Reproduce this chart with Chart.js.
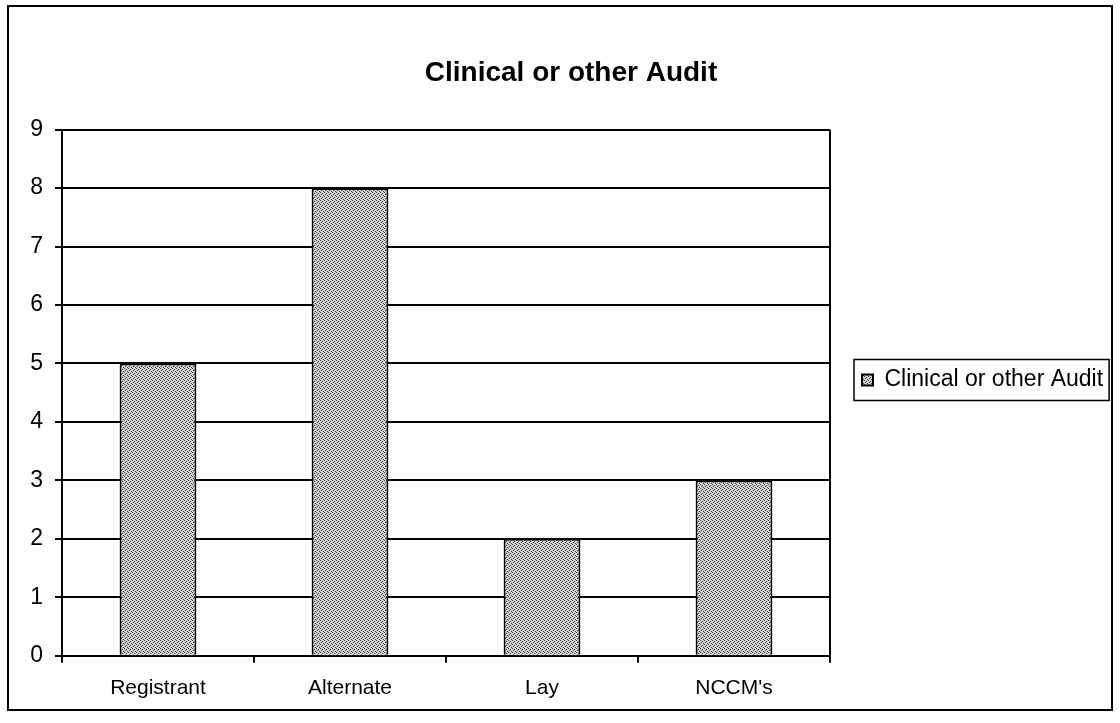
<!DOCTYPE html>
<html>
<head>
<meta charset="utf-8">
<script src="https://cdn.jsdelivr.net/npm/chart.js@4/dist/chart.umd.min.js"></script>
<style>
  html, body { margin: 0; padding: 0; background: #fff; }
  #wrap { width: 1120px; height: 723px; position: relative; }
</style>
</head>
<body>
<div id="wrap"><canvas id="myChart" width="1120" height="723"></canvas></div>
<script>
const categories = ['Registrant', 'Alternate', 'Lay', "NCCM's"];
const auditValues = [5, 8, 2, 3];
const yTicks = [0, 1, 2, 3, 4, 5, 6, 7, 8, 9];
const seriesLabel = 'Clinical or other Audit';

// stippled grey fill like the printed bars
function makePattern() {
  const c = document.createElement('canvas');
  c.width = 4; c.height = 4;
  const g = c.getContext('2d');
  g.fillStyle = '#cfcfcf';
  g.fillRect(0, 0, 4, 4);
  g.fillStyle = '#444';
  g.fillRect(0, 0, 1, 1);
  g.fillRect(2, 1, 1, 1);
  g.fillRect(1, 2, 1, 1);
  g.fillRect(3, 3, 1, 1);
  return g.createPattern(c, 'repeat');
}

// give the legend a fixed width so the plot ends where the original one does
const legendWidth = {
  id: 'legendWidth',
  beforeLayout(chart) {
    const lg = chart.legend;
    if (lg && !lg._patched) {
      const fit = lg.fit;
      lg.fit = function () { fit.call(this); this.width = 290; };
      lg._patched = true;
    }
  }
};

const frame = {
  id: 'frame',
  afterDraw(chart) {
    const ctx = chart.ctx;
    const a = chart.chartArea;
    ctx.save();
    ctx.strokeStyle = '#000';
    ctx.lineWidth = 2;
    // outer chart border
    ctx.strokeRect(8, 6, 1104, 704);
    // plot area right edge
    ctx.beginPath();
    ctx.moveTo(a.right, a.top);
    ctx.lineTo(a.right, a.bottom);
    ctx.stroke();
    // legend box
    const lg = chart.legend;
    if (lg && lg.legendHitBoxes.length) {
      const hb = lg.legendHitBoxes[0];
      ctx.lineWidth = 1.5;
      ctx.strokeRect(hb.left - 8, hb.top - 9, hb.width + 14, hb.height + 18);
    }
    ctx.restore();
  }
};

const config = {
  type: 'bar',
  data: {
    labels: categories,
    datasets: [{
      label: seriesLabel,
      data: auditValues,
      backgroundColor: makePattern(),
      borderColor: '#000',
      borderWidth: 2,
      categoryPercentage: 1,
      barPercentage: 0.4
    }]
  },
  options: {
    responsive: false,
    animation: false,
    layout: { padding: { left: 22, right: 0, top: 46, bottom: 9 } },
    plugins: {
      title: {
        display: true,
        text: seriesLabel,
        color: '#000',
        font: { family: 'Arial, Liberation Sans', size: 28, weight: 'bold' },
        padding: { top: 10, bottom: 40 }
      },
      legend: {
        position: 'right',
        labels: {
          color: '#000',
          boxWidth: 11,
          boxHeight: 11,
          padding: 32,
          font: { family: 'Arial, Liberation Sans', size: 23 }
        }
      },
      tooltip: { enabled: false }
    },
    scales: {
      x: {
        grid: { drawOnChartArea: false, drawTicks: true, tickLength: 7, color: '#000', lineWidth: 2, offset: true },
        border: { display: true, color: '#000', width: 2 },
        ticks: { color: '#000', padding: 13, font: { family: 'Arial, Liberation Sans', size: 21 } }
      },
      y: {
        min: 0,
        max: 9,
        afterBuildTicks: s => { s.ticks = yTicks.map(v => ({ value: v })); },
        afterFit: s => { s.width = 40; },
        grid: { color: '#000', lineWidth: 2, tickLength: 7 },
        border: { display: true, color: '#000', width: 2 },
        ticks: { color: '#000', padding: 12, font: { family: 'Arial, Liberation Sans', size: 23 } }
      }
    }
  },
  plugins: [legendWidth, frame]
};

const myChart = new Chart(document.getElementById('myChart'), config);
</script>
</body>
</html>
